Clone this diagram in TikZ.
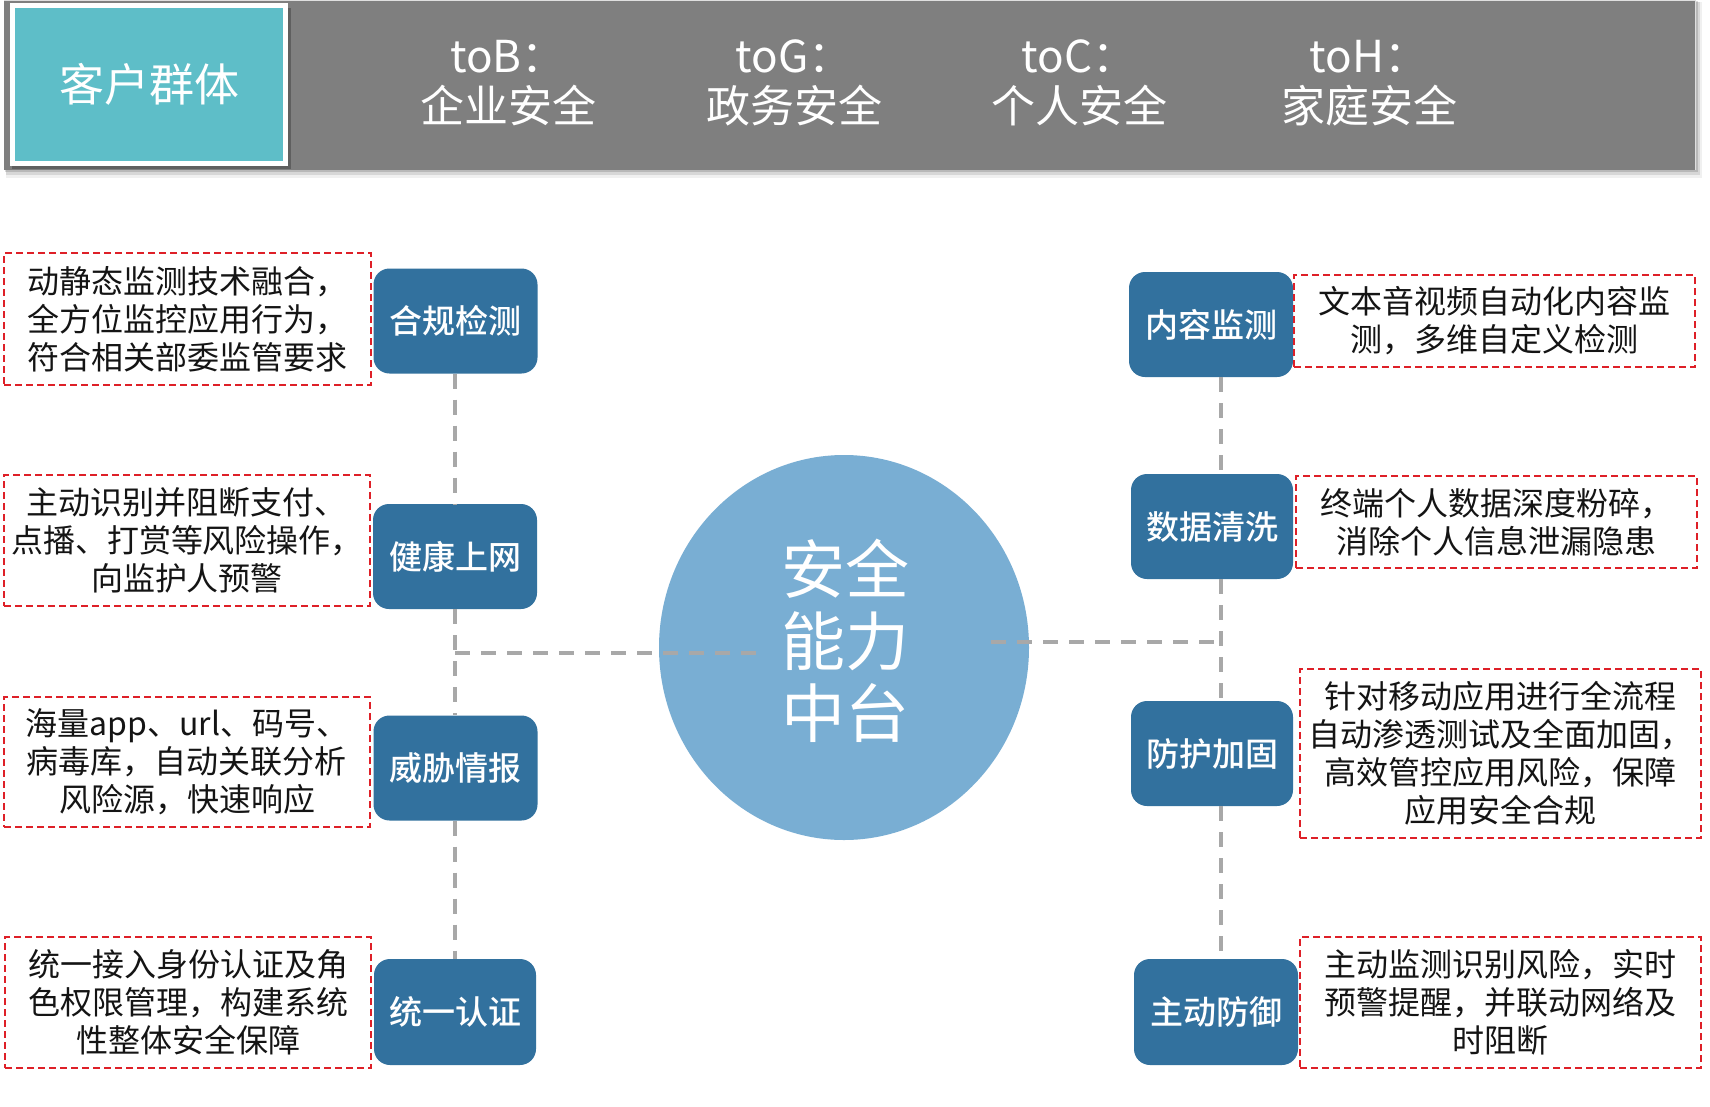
\documentclass[tikz,border=0pt]{standalone}
\usepackage{fontspec}
\setmainfont{Noto Sans CJK SC}
\newfontfamily\medfont{Noto Sans CJK SC Medium}
\usetikzlibrary{shapes.geometric}
\definecolor{barg}{RGB}{127,127,127}
\definecolor{tealc}{RGB}{94,190,200}
\definecolor{cblue}{RGB}{50,113,158}
\definecolor{circc}{RGB}{121,174,211}
\definecolor{reddash}{RGB}{222,32,40}
\definecolor{lineg}{RGB}{168,168,168}
\definecolor{textc}{RGB}{20,20,20}
\begin{document}
\begin{tikzpicture}[x=1pt,y=-1pt,
 bbox/.style={fill=cblue, rounded corners=16pt, text=white,
   font=\medfont\fontsize{33}{38}\selectfont,
   minimum width=164pt, minimum height=105pt, inner sep=0pt},
 descbox/.style={draw=reddash, line width=2pt, dash pattern=on 7pt off 4pt,
   align=center, inner sep=0pt, text=textc, font=\fontsize{32}{38}\selectfont},
 conn/.style={draw=lineg, line width=4pt, dash pattern=on 15pt off 11pt},
 hdr/.style={text=white, align=center, font=\fontsize{44}{50}\selectfont}
]
\fill[white] (0,0) rectangle (1710,1106);
\useasboundingbox (0,0) rectangle (1710,1106);
% top bar with shadow
\fill[black, opacity=0.06] (6,2) rectangle (1702,178);
\fill[black, opacity=0.10] (6,2) rectangle (1700,175);
\fill[black, opacity=0.14] (5,1) rectangle (1698,172);
\fill[barg] (4,0) rectangle (1696,170);
\draw[white!75!gray, line width=1pt] (4,0.5) -- (1695.5,0.5) -- (1695.5,170);
% customer group box
\fill[black, opacity=0.25] (12,8) rectangle (291,169);
\node[fill=tealc, draw=white, line width=5pt, minimum width=273pt,
  minimum height=158pt, inner sep=0pt, text=white,
  font=\fontsize{45}{50}\selectfont] (kh) at (149,84.5) {客户群体};
\node[hdr] (tob) at (508,83) {toB：\\企业安全};
\node[hdr] (tog) at (794,83) {toG：\\政务安全};
\node[hdr] (toc) at (1079,83) {toC：\\个人安全};
\node[hdr] (toh) at (1369,83) {toH：\\家庭安全};
% centre
\node[ellipse, fill=circc, minimum width=370pt, minimum height=385pt, inner sep=0pt] (core) at (844,647.5) {};
% junction coordinates
\coordinate (lj) at (455,653);
\coordinate (le) at (756,653);
\coordinate (rj) at (1221,642);
\coordinate (re) at (991,642);
% blue boxes
\node[bbox] (b1) at (455.5,321) {合规检测};
\node[bbox] (b2) at (455,556.5) {健康上网};
\node[bbox] (b3) at (455.5,768) {威胁情报};
\node[bbox, minimum width=162pt, minimum height=106pt] (b4) at (455,1012) {统一认证};
\node[bbox] (c1) at (1211,324.5) {内容监测};
\node[bbox, minimum width=162pt] (c2) at (1212,526.5) {数据清洗};
\node[bbox, minimum width=162pt] (c3) at (1212,753.5) {防护加固};
\node[bbox, minimum height=106pt] (c4) at (1216,1012) {主动防御};
% connectors
\draw[conn] (b1.south -| lj) -- (b2.north -| lj);
\draw[conn] (b2.south -| lj) -- (b3.north -| lj);
\draw[conn] (b3.south -| lj) -- (b4.north -| lj);
\draw[conn] (lj) -- (le);
\draw[conn] (c1.south -| rj) -- (c2.north -| rj);
\draw[conn] (c2.south -| rj) -- (c3.north -| rj);
\draw[conn] (c3.south -| rj) -- (c4.north -| rj);
\draw[conn] (re) -- (rj);
% centre text
\node[text=white, align=center, font=\fontsize{64}{72}\selectfont, inner sep=0pt] (coretext) at (845,641) {安全\\能力\\中台};
% descriptions
\node[descbox, minimum width=367pt, minimum height=132pt] (l1) at (187.5,319) {动静态监测技术融合，\\全方位监控应用行为，\\符合相关部委监管要求};
\node[descbox, minimum width=366pt, minimum height=131pt] (l2) at (187,540.5) {主动识别并阻断支付、\\点播、打赏等风险操作，\\向监护人预警};
\node[descbox, minimum width=366pt, minimum height=130pt] (l3) at (187,762) {海量app、url、码号、\\病毒库，自动关联分析\\风险源，快速响应};
\node[descbox, minimum width=366pt, minimum height=131pt] (l4) at (188,1002.5) {统一接入身份认证及角\\色权限管理，构建系统\\性整体安全保障};
\node[descbox, minimum width=401pt, minimum height=92pt] (r1) at (1494.5,321) {文本音视频自动化内容监\\测，多维自定义检测};
\node[descbox, minimum width=401pt, minimum height=92pt] (r2) at (1496.5,522) {终端个人数据深度粉碎，\\消除个人信息泄漏隐患};
\node[descbox, minimum width=401pt, minimum height=169pt] (r3) at (1500.5,753.5) {针对移动应用进行全流程\\自动渗透测试及全面加固，\\高效管控应用风险，保障\\应用安全合规};
\node[descbox, minimum width=401pt, minimum height=131pt] (r4) at (1500.5,1002.5) {主动监测识别风险，实时\\预警提醒，并联动网络及\\时阻断};
\end{tikzpicture}
\end{document}
